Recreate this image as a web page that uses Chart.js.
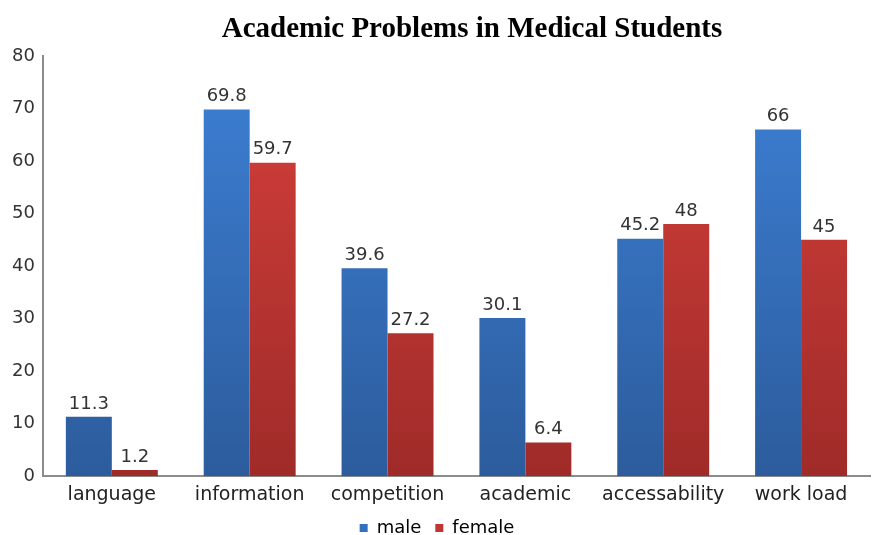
<!DOCTYPE html>
<html lang="en">
<head>
  <meta charset="UTF-8">
  <title>Academic Problems in Medical Students</title>
  <style>
    html, body {
      margin: 0;
      padding: 0;
      background: #ffffff;
    }
    #wrap {
      width: 874px;
      height: 535px;
    }
  </style>
</head>
<body>
  <div id="wrap">
    <canvas id="chart" width="874" height="535"></canvas>
  </div>

  <script src="https://cdn.jsdelivr.net/npm/chart.js"></script>
  <script>
    const categories = ['language', 'information', 'competition', 'academic', 'accessability', 'work load'];
    const maleValues = [11.3, 69.8, 39.6, 30.1, 45.2, 66];
    const femaleValues = [1.2, 59.7, 27.2, 6.4, 48, 45];
    const yTicks = [0, 10, 20, 30, 40, 50, 60, 70, 80];
    const chartTitle = 'Academic Problems in Medical Students';

    const FONT = '"DejaVu Sans", sans-serif';

    // vertical gradient like the office-style bars
    function barGradient(ctx, top, bottom) {
      const chart = ctx.chart;
      const area = chart.chartArea;
      if (!area) return top;
      const g = chart.ctx.createLinearGradient(0, area.top, 0, area.bottom);
      g.addColorStop(0, top);
      g.addColorStop(1, bottom);
      return g;
    }

    // values written above each bar
    const valueLabels = {
      id: 'valueLabels',
      afterDatasetsDraw(chart) {
        const c = chart.ctx;
        c.save();
        c.font = '18px ' + FONT;
        c.fillStyle = '#333333';
        c.textAlign = 'center';
        c.textBaseline = 'bottom';
        chart.data.datasets.forEach((ds, i) => {
          chart.getDatasetMeta(i).data.forEach((bar, j) => {
            c.fillText(String(ds.data[j]), bar.x, bar.y - 4);
          });
        });
        c.restore();
      }
    };

    // title sits a bit right of canvas centre, as in the original
    const titleText = {
      id: 'titleText',
      afterDraw(chart) {
        const c = chart.ctx;
        c.save();
        c.font = 'bold 29px "Liberation Serif", "Times New Roman", serif';
        c.fillStyle = '#000000';
        c.textAlign = 'center';
        c.textBaseline = 'middle';
        c.fillText(chartTitle, 472, 30);
        c.restore();
      }
    };

    // wider gap between legend items pushes the text down, pull it back up
    const legendNudge = {
      id: 'legendNudge',
      afterLayout(chart) {
        if (chart.legend) {
          chart.legend.top -= 8;
          chart.legend.bottom -= 8;
        }
      }
    };

    const ctx = document.getElementById('chart').getContext('2d');
    const chart = new Chart(ctx, {
      type: 'bar',
      data: {
        labels: categories,
        datasets: [{
          label: 'male',
          data: maleValues,
          backgroundColor: (c) => barGradient(c, '#3d80d6', '#2c5c9c'),
          borderWidth: 0,
          barPercentage: 1,
          categoryPercentage: 0.667
        }, {
          label: 'female',
          data: femaleValues,
          backgroundColor: (c) => barGradient(c, '#d6403b', '#9f2b29'),
          borderWidth: 0,
          barPercentage: 1,
          categoryPercentage: 0.667
        }]
      },
      options: {
        responsive: false,
        animation: false,
        layout: {
          padding: { top: 56, right: 4, left: 4, bottom: -20 }
        },
        scales: {
          x: {
            grid: { display: false, drawTicks: false },
            border: { display: true, color: '#8c8c8c', width: 2 },
            ticks: {
              color: '#222222',
              font: { family: FONT, size: 19 },
              padding: 7,
              maxRotation: 0
            }
          },
          y: {
            min: 0,
            max: 80,
            afterBuildTicks: (axis) => {
              axis.ticks = yTicks.map(v => ({ value: v }));
            },
            grid: { display: false, drawTicks: false },
            border: { display: true, color: '#8c8c8c', width: 2 },
            ticks: {
              color: '#333333',
              font: { family: FONT, size: 18 },
              padding: 8
            }
          }
        },
        plugins: {
          legend: {
            position: 'bottom',
            labels: {
              boxWidth: 8,
              boxHeight: 8,
              padding: 14,
              color: '#222222',
              font: { family: FONT, size: 18 },
              generateLabels: (ch) => ch.data.datasets.map((ds, i) => ({
                text: ds.label,
                fillStyle: i === 0 ? '#3470c0' : '#c03633',
                strokeStyle: 'transparent',
                lineWidth: 0,
                datasetIndex: i
              }))
            }
          },
          title: { display: false },
          tooltip: { enabled: false }
        }
      },
      plugins: [valueLabels, titleText, legendNudge]
    });
  </script>
</body>
</html>
